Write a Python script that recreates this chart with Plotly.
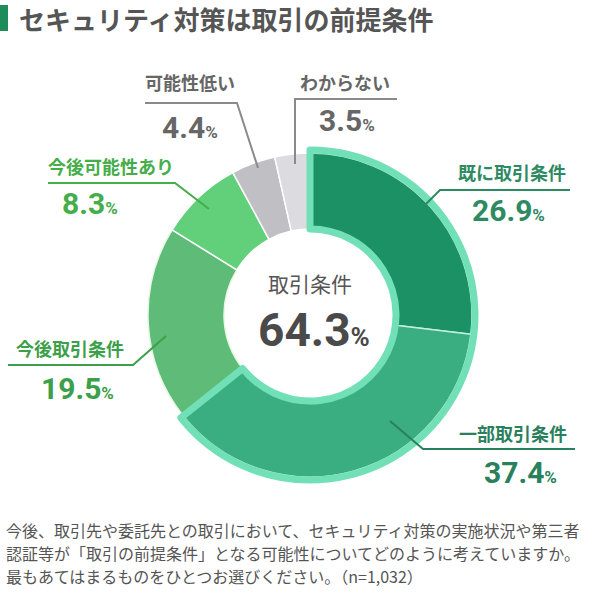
import plotly.graph_objects as go

# ---- data ----
categories = ["既に取引条件", "一部取引条件", "今後取引条件", "今後可能性あり", "可能性低い", "わからない"]
values = [26.9, 37.4, 19.5, 8.3, 4.4, 3.5]
slice_colors = ["#1b9165", "#3aae80", "#5fbb78", "#62d07a", "#bfbfc4", "#dcdce0"]
label_colors = ["#2e8a62", "#2a805c", "#3c9f4a", "#45ad4a", "#666666", "#666666"]
group_label = "取引条件"
group_value = round(values[0] + values[1], 1)
title_text = "セキュリティ対策は取引の前提条件"
footer_lines = [
    "今後、取引先や委託先との取引において、セキュリティ対策の実施状況や第三者",
    "認証等が「取引の前提条件」となる可能性についてどのように考えていますか。",
    "最もあてはまるものをひとつお選びください。（n=1,032）",
]

W, H = 600, 593
CX, CY = 310, 315
R_MAIN, R_INNER = 162, 86
R_OUT = 165
MINT = "#72e0b6"
JP = "Noto Sans CJK JP"
NUM = "Roboto"


def px(x):
    return x / W


def py(y):
    return 1 - y / H


def dom(r):
    return dict(x=[px(CX - r), px(CX + r)], y=[py(CY + r), py(CY - r)])


fig = go.Figure()

fig.add_trace(go.Pie(
    labels=categories, values=values, sort=False, direction="clockwise", rotation=0,
    hole=R_INNER / R_MAIN, domain=dom(R_MAIN),
    marker=dict(colors=slice_colors, line=dict(color=["#bff0dc", "#bff0dc", "#e8f7e0", "white", "white", "white"], width=1.5)),
    textinfo="none", hoverinfo="skip", showlegend=False,
))

fig.add_trace(go.Pie(
    labels=[group_label, "other"], values=[group_value, round(100 - group_value, 1)],
    sort=False, direction="clockwise", rotation=0,
    hole=(R_INNER) / R_OUT, domain=dom(R_OUT),
    marker=dict(colors=["rgba(0,0,0,0)", "rgba(0,0,0,0)"],
                line=dict(color=[MINT, "rgba(0,0,0,0)"], width=[7, 0])),
    textinfo="none", hoverinfo="skip", showlegend=False,
))

annotations = []
shapes = []


def note(x, y, text, font, xanchor="center"):
    annotations.append(dict(x=px(x), y=py(y), xref="paper", yref="paper", xanchor=xanchor,
                            yanchor="middle", text=text, showarrow=False, font=font))


# title
shapes.append(dict(type="rect", xref="paper", yref="paper", x0=px(0), x1=px(8), y0=py(31), y1=py(5),
                   fillcolor="#1d8c5a", line=dict(width=0)))
note(17, 18, "<b>" + title_text + "</b>", dict(family=JP, size=26, color="#555555"), "left")

# center
note(CX, 283, group_label, dict(family=JP, size=21, color="#555555"))
note(CX + 4, 330, f"<b>{group_value}</b><span style='font-size:26px'><b>%</b></span>",
     dict(family=NUM, size=46, color="#4a4a4a"))

# label placements: (label x, label y, value x, value y, leader polyline)
placements = [
    (512, 172, 508, 211, [(570, 190), (440, 190), (424, 206)]),
    (513, 433, 520, 472, [(575, 449), (423, 449), (390, 421)]),
    (70, 348, 77, 388, [(8, 365), (133, 365), (166, 336)]),
    (111, 166, 90, 204, [(48, 183), (175, 183), (209, 209)]),
    (190, 82, 190, 127, [(145, 103), (237, 103), (258, 168)]),
    (345, 82, 347, 121, [(397, 99), (295, 99), (295, 164)]),
]

for cat, val, col, (lx, ly, vx, vy, pts) in zip(categories, values, label_colors, placements):
    note(lx, ly, f"<b>{cat}</b>", dict(family=JP, size=18, color=col))
    note(vx, vy, f"<b>{val}</b><span style='font-size:17px'><b>%</b></span>",
         dict(family=NUM, size=30, color=col))
    lc = "#8a8a8a" if col == "#666666" else col
    path = "M " + " L ".join(f"{px(x)},{py(y)}" for x, y in pts)
    shapes.append(dict(type="path", xref="paper", yref="paper", path=path,
                       line=dict(color=lc, width=2)))

# footer
for i, line in enumerate(footer_lines):
    note(4, 530 + 23 * i, line, dict(family=JP, size=16, color="#555555"), "left")

fig.update_layout(
    width=W, height=H, margin=dict(l=0, r=0, t=0, b=0),
    paper_bgcolor="white", plot_bgcolor="white", showlegend=False,
    annotations=annotations, shapes=shapes,
)

fig.write_html("out.html")
